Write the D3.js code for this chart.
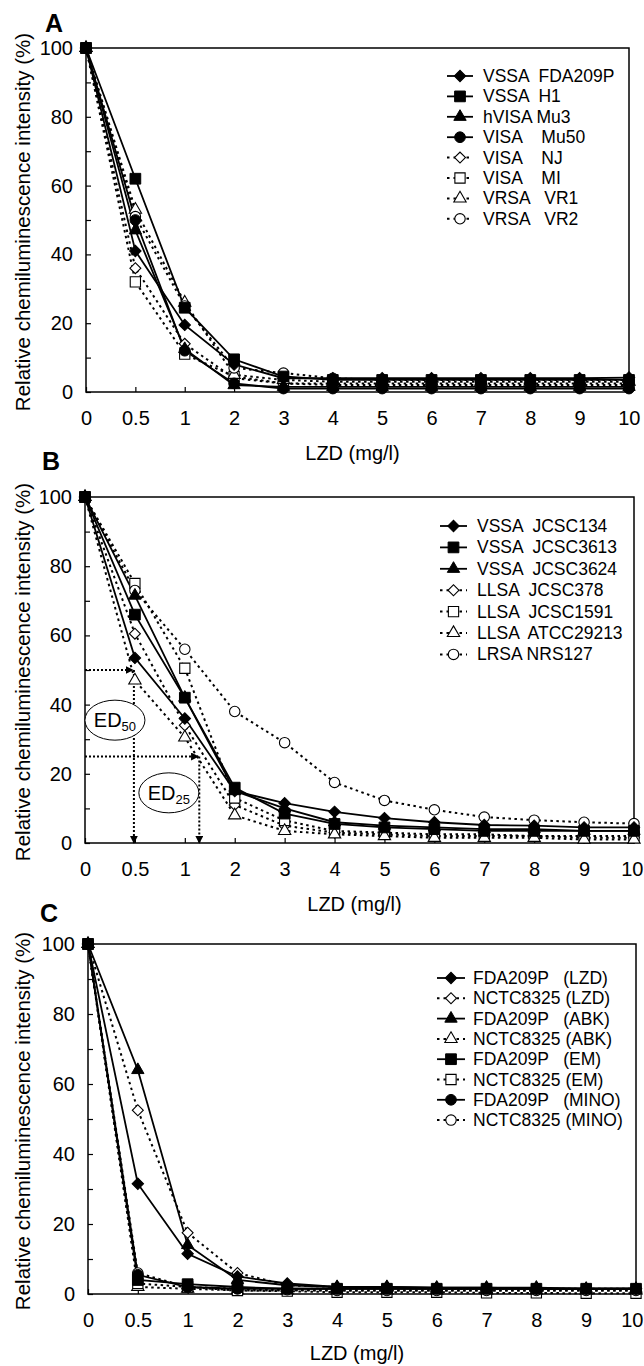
<!DOCTYPE html>
<html>
<head>
<meta charset="utf-8">
<script src="https://cdn.jsdelivr.net/npm/d3@7"></script>
<style>
  body { margin: 0; background: #fff; }
  text { font-family: "Liberation Sans", Arial, sans-serif; fill: #000; }
</style>
</head>
<body>
<svg id="chart" width="644" height="1366"></svg>
<script>
// dose categories, equally spaced on the x axis
var doses = ["0", "0.5", "1", "2", "3", "4", "5", "6", "7", "8", "9", "10"];
var yTicks = [0, 20, 40, 60, 80, 100];

// Panel A
var namesA = ["VSSA  FDA209P", "VSSA  H1", "hVISA Mu3", "VISA    Mu50", "VISA    NJ", "VISA    MI", "VRSA   VR1", "VRSA   VR2"];
var aFDA209P = [100, 41, 19.5, 8, 4, 4, 4, 4, 4, 4, 4, 4.2];
var aH1      = [100, 62, 24.5, 9.5, 4.5, 3.5, 3.5, 3.5, 3.5, 3.5, 3.5, 3.5];
var aMu3     = [100, 47, 12.5, 2, 1.5, 1.5, 1.5, 1.5, 1.5, 1.5, 1.5, 1.5];
var aMu50    = [100, 50, 12, 2.5, 1, 1, 1, 1, 1, 1, 1, 1];
var aNJ      = [100, 36, 14, 4, 2.5, 2.5, 2.5, 2.5, 2.5, 2.5, 2.5, 2.5];
var aMI      = [100, 32, 11, 4.5, 2.5, 2, 2, 2, 2, 2, 2, 2];
var aVR1     = [100, 53, 26, 5, 3.5, 3, 3, 3, 3, 3, 3, 3];
var aVR2     = [100, 51, 25, 7, 5.5, 4, 3.5, 3.5, 3.5, 3.5, 3.5, 3.5];

// Panel B
var namesB = ["VSSA  JCSC134", "VSSA  JCSC3613", "VSSA  JCSC3624", "LLSA  JCSC378", "LLSA  JCSC1591", "LLSA  ATCC29213", "LRSA NRS127"];
var bJCSC134   = [100, 53.5, 36, 15, 11.5, 9, 7.2, 6, 5.2, 5, 4.5, 4.5];
var bJCSC3613  = [100, 66, 42, 16, 8.5, 5.5, 4.5, 4, 3.5, 3.5, 3.5, 3.5];
var bJCSC3624  = [100, 71.5, 42, 15, 10, 6, 5, 4.5, 4, 4, 3.5, 3.5];
var bJCSC378   = [100, 60.5, 34, 11, 5, 3, 2.5, 2, 2, 2, 1.5, 1.5];
var bJCSC1591  = [100, 75, 50.5, 13, 6.5, 3.5, 3, 2.5, 2.5, 2, 2, 2];
var bATCC29213 = [100, 47, 30.5, 8, 3.5, 2.5, 2, 1.5, 1.5, 1.5, 1, 1];
var bNRS127    = [100, 73, 56, 38, 29, 17.5, 12.3, 9.6, 7.5, 6.6, 6, 5.6];

// ED50 / ED25 read-offs in panel B
var edLevels = [50, 25];
var edDoses = [0.48, 1.27];
var edLabels = ["50", "25"];
var edLabelDoses = [0.3, 0.84];
var edLabelLevels = [35.5, 14.5];

// Panel C
var namesC = ["FDA209P   (LZD)", "NCTC8325 (LZD)", "FDA209P   (ABK)", "NCTC8325 (ABK)", "FDA209P   (EM)", "NCTC8325 (EM)", "FDA209P   (MINO)", "NCTC8325 (MINO)"];
var cFdaLZD   = [100, 31.5, 11.5, 5, 3, 2, 2, 1.8, 1.8, 1.5, 1.5, 1.5];
var cNctcLZD  = [100, 52.5, 17.5, 6, 2.5, 2, 1.8, 1.5, 1.5, 1.5, 1.5, 1.5];
var cFdaABK   = [100, 64, 14, 4, 2.5, 2, 2, 1.8, 1.8, 1.8, 1.5, 1.5];
var cNctcABK  = [100, 2, 1.5, 1, 1, 1, 1, 1, 1, 1, 1, 1];
var cFdaEM    = [100, 4, 2.8, 2, 1.5, 1.5, 1.5, 1.5, 1.5, 1.5, 1.5, 1.5];
var cNctcEM   = [100, 3, 2, 1, 0.8, 0.5, 0.5, 0.5, 0.3, 0.3, 0.2, 0.2];
var cFdaMINO  = [100, 5.5, 2, 1.5, 1.5, 1.5, 1.5, 1.5, 1.5, 1.5, 1.5, 1.5];
var cNctcMINO = [100, 6, 2, 1.5, 1.2, 1, 1, 1, 1, 1, 1, 1];

// style of each series: shape, filled (solid line) or open (dotted line)
function st(shape, filled) { return {shape: shape, filled: filled}; }

var panels = [
  {
    label: "A", left: 86, right: 629, top: 48, bottom: 392, titleY: 460, labelX: 45, labelY: 32,
    legend: {x1: 447, x2: 473, tx: 483, y0: 76, step: 20.4},
    series: [
      [namesA[0], aFDA209P, st("diamond", true)],
      [namesA[1], aH1, st("square", true)],
      [namesA[2], aMu3, st("triangle", true)],
      [namesA[3], aMu50, st("circle", true)],
      [namesA[4], aNJ, st("diamond", false)],
      [namesA[5], aMI, st("square", false)],
      [namesA[6], aVR1, st("triangle", false)],
      [namesA[7], aVR2, st("circle", false)]
    ]
  },
  {
    label: "B", left: 85, right: 634, top: 497, bottom: 843, titleY: 911, labelX: 42, labelY: 470,
    legend: {x1: 440, x2: 467, tx: 477, y0: 526, step: 21.4},
    series: [
      [namesB[0], bJCSC134, st("diamond", true)],
      [namesB[1], bJCSC3613, st("square", true)],
      [namesB[2], bJCSC3624, st("triangle", true)],
      [namesB[3], bJCSC378, st("diamond", false)],
      [namesB[4], bJCSC1591, st("square", false)],
      [namesB[5], bATCC29213, st("triangle", false)],
      [namesB[6], bNRS127, st("circle", false)]
    ],
    ed: true
  },
  {
    label: "C", left: 88, right: 636, top: 944, bottom: 1294, titleY: 1360, labelX: 40, labelY: 922,
    legend: {x1: 437, x2: 465, tx: 473, y0: 978, step: 20.3},
    series: [
      [namesC[0], cFdaLZD, st("diamond", true)],
      [namesC[1], cNctcLZD, st("diamond", false)],
      [namesC[2], cFdaABK, st("triangle", true)],
      [namesC[3], cNctcABK, st("triangle", false)],
      [namesC[4], cFdaEM, st("square", true)],
      [namesC[5], cNctcEM, st("square", false)],
      [namesC[6], cFdaMINO, st("circle", true)],
      [namesC[7], cNctcMINO, st("circle", false)]
    ]
  }
];

var svg = d3.select("#chart");

var defs = svg.append("defs");
defs.append("marker")
  .attr("id", "arrow")
  .attr("viewBox", "0 0 10 10")
  .attr("refX", 9).attr("refY", 5)
  .attr("markerWidth", 4).attr("markerHeight", 4)
  .attr("orient", "auto")
  .append("path")
  .attr("d", "M0,0L10,5L0,10Z")
  .attr("fill", "#000");

function symbolPath(shape, filled) {
  if (shape === "diamond") return d3.symbol(d3.symbolSquare, filled ? 66 : 60)();
  if (shape === "square") return d3.symbol(d3.symbolSquare, filled ? 115 : 105)();
  if (shape === "triangle") return d3.symbol(d3.symbolTriangle, filled ? 66 : 66)();
  return d3.symbol(d3.symbolCircle, filled ? 90 : 85)();
}

function drawMarker(g, style, cx, cy) {
  g.append("path")
    .attr("d", symbolPath(style.shape, style.filled))
    .attr("transform", "translate(" + cx + "," + cy + ")" + (style.shape === "diamond" ? " rotate(45)" : ""))
    .attr("fill", style.filled ? "#000" : "#fff")
    .attr("stroke", "#000")
    .attr("stroke-width", style.filled ? 1 : 1.1);
}

panels.forEach(function (p) {
  var g = svg.append("g");

  var x = d3.scalePoint().domain(doses).range([p.left, p.right]);
  var y = d3.scaleLinear().domain([0, 100]).range([p.bottom, p.top]);

  // continuous dose position between the category points
  var doseNum = doses.map(Number);
  function xDose(v) {
    for (var i = 0; i < doseNum.length - 1; i++) {
      if (v <= doseNum[i + 1]) {
        var t = (v - doseNum[i]) / (doseNum[i + 1] - doseNum[i]);
        return x(doses[i]) + t * (x(doses[i + 1]) - x(doses[i]));
      }
    }
    return x(doses[doses.length - 1]);
  }

  // axes with inward ticks
  var yAxis = d3.axisLeft(y)
    .tickValues(d3.range(0, 101, 10))
    .tickSize(-5)
    .tickPadding(13)
    .tickFormat(function (d) { return yTicks.indexOf(d) >= 0 ? d : ""; });
  var ya = g.append("g").attr("transform", "translate(" + p.left + ",0)").call(yAxis);

  var xAxis = d3.axisBottom(x).tickSize(-5).tickPadding(19);
  var xa = g.append("g").attr("transform", "translate(0," + p.bottom + ")").call(xAxis);

  [ya, xa].forEach(function (a) {
    a.select(".domain").remove();
    a.selectAll("line").attr("stroke", "#000").attr("stroke-width", 1.2);
    a.selectAll("text").attr("font-size", 20).attr("fill", "#000")
      .attr("font-family", "Liberation Sans, Arial, sans-serif");
  });
  // keep the last x label inside the page
  xa.selectAll("text").filter(function (d) { return d === "10"; })
    .attr("text-anchor", "end").attr("x", Math.min(11, 643 - p.right));

  g.append("rect")
    .attr("x", p.left).attr("y", p.top)
    .attr("width", p.right - p.left).attr("height", p.bottom - p.top)
    .attr("fill", "none").attr("stroke", "#000").attr("stroke-width", 1.5);

  // titles
  g.append("text")
    .attr("x", (p.left + p.right) / 2 - 5).attr("y", p.titleY)
    .attr("text-anchor", "middle").attr("font-size", 20)
    .text("LZD (mg/l)");
  g.append("text")
    .attr("transform", "translate(30," + ((p.top + p.bottom) / 2 + 2) + ") rotate(-90)")
    .attr("text-anchor", "middle").attr("font-size", 20.5)
    .text("Relative chemiluminescence intensity (%)");
  g.append("text")
    .attr("x", p.labelX).attr("y", p.labelY)
    .attr("font-size", 25).attr("font-weight", "bold")
    .text(p.label);

  // ED annotations (panel B)
  if (p.ed) {
    edLevels.forEach(function (lv, i) {
      var xe = xDose(edDoses[i]);
      g.append("line")
        .attr("x1", p.left).attr("y1", y(lv)).attr("x2", xe).attr("y2", y(lv))
        .attr("stroke", "#000").attr("stroke-width", 2).attr("stroke-dasharray", "2,2")
        .attr("marker-end", "url(#arrow)");
      g.append("line")
        .attr("x1", xe + 1).attr("y1", y(lv)).attr("x2", xe + 1).attr("y2", y(0))
        .attr("stroke", "#000").attr("stroke-width", 2).attr("stroke-dasharray", "2,2")
        .attr("marker-end", "url(#arrow)");
      var cx = xDose(edLabelDoses[i]), cy = y(edLabelLevels[i]);
      g.append("ellipse")
        .attr("cx", cx).attr("cy", cy).attr("rx", 30).attr("ry", 20)
        .attr("fill", "#fff").attr("stroke", "#000").attr("stroke-width", 1);
      var t = g.append("text")
        .attr("x", cx).attr("y", cy + 7)
        .attr("text-anchor", "middle").attr("font-size", 20);
      t.append("tspan").text("ED");
      t.append("tspan").attr("font-size", 13).attr("dy", 4).text(edLabels[i]);
    });
  }

  var line = d3.line()
    .x(function (d, i) { return x(doses[i]); })
    .y(function (d) { return y(d); });

  // lines: dotted (open) first, solid on top
  var order = p.series.slice().sort(function (a, b) { return a[2].filled - b[2].filled; });
  order.forEach(function (s) {
    g.append("path")
      .datum(s[1])
      .attr("d", line)
      .attr("fill", "none")
      .attr("stroke", "#000")
      .attr("stroke-width", s[2].filled ? 1.8 : 2)
      .attr("stroke-dasharray", s[2].filled ? null : "2.5,3.5");
  });
  order.forEach(function (s) {
    s[1].forEach(function (v, i) { drawMarker(g, s[2], x(doses[i]), y(v)); });
  });

  // legend
  var L = p.legend;
  p.series.forEach(function (s, i) {
    var yy = L.y0 + i * L.step;
    g.append("line")
      .attr("x1", L.x1).attr("x2", L.x2).attr("y1", yy).attr("y2", yy)
      .attr("stroke", "#000")
      .attr("stroke-width", s[2].filled ? 1.8 : 2)
      .attr("stroke-dasharray", s[2].filled ? null : "2.5,4");
    drawMarker(g, s[2], (L.x1 + L.x2) / 2, yy);
    g.append("text")
      .attr("x", L.tx).attr("y", yy + 6)
      .attr("font-size", 17.5)
      .style("white-space", "pre")
      .text(s[0]);
  });
});
</script>
</body>
</html>
